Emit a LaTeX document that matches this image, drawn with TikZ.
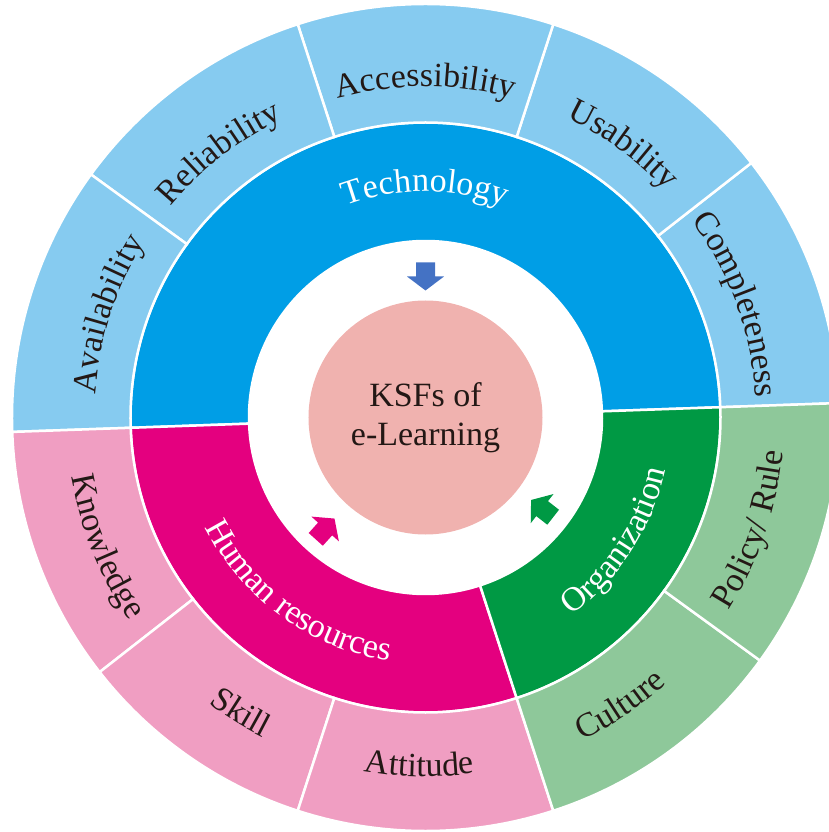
\documentclass[tikz,border=0pt]{standalone}
\usepackage{fontspec}
\setmainfont{Liberation Serif}
\usetikzlibrary{decorations.text}

\definecolor{techdark}{RGB}{0,158,230}
\definecolor{techlight}{RGB}{134,203,240}
\definecolor{hrdark}{RGB}{228,0,127}
\definecolor{hrlight}{RGB}{240,158,194}
\definecolor{orgdark}{RGB}{0,153,68}
\definecolor{orglight}{RGB}{142,200,154}
\definecolor{corefill}{RGB}{240,178,175}
\definecolor{arrowblue}{RGB}{68,114,196}
\definecolor{labeltext}{RGB}{35,24,21}

\newcommand{\lblfont}{\fontsize{34}{39}\selectfont}

% label along an arc, read clockwise (tops outward)
\newcommand{\cwlabel}[4]{%
  \path[decorate, decoration={text along path, text align=center, text color=#3,
        text={|\lblfont|#4}}]
    (#1+40:#2pt) arc[start angle=#1+40, end angle=#1-40, radius=#2pt];}
% label along an arc, read counterclockwise (tops inward)
\newcommand{\ccwlabel}[4]{%
  \path[decorate, decoration={text along path, text align=center, text color=#3,
        text={|\lblfont|#4}}]
    (#1-40:#2pt) arc[start angle=#1-40, end angle=#1+40, radius=#2pt];}
% block arrow pointing to the centre
\newcommand{\inarrow}[3]{%
  \fill[#3, shift={(#1:#2pt)}, rotate=#1+180]
    (-14pt,-9.5pt) -- (0pt,-9.5pt) -- (0pt,-18.5pt) -- (14pt,0pt)
    -- (0pt,18.5pt) -- (0pt,9.5pt) -- (-14pt,9.5pt) -- cycle;}

\begin{document}
\begin{tikzpicture}[
  sector/.style = {draw=white, line width=2.5pt},
  core/.style   = {circle, fill=corefill, minimum size=234pt, inner sep=0pt,
                   align=center, font=\lblfont, text=labeltext},
]
  \useasboundingbox (-425.5pt,-414.5pt) rectangle (403.5pt,417.5pt);

  % inner ring
  \foreach \a/\b/\c in {2/182/techdark, 182/288/hrdark, 288/362/orgdark}
    \path[fill=\c, sector] (\a:176.5pt) arc[start angle=\a, end angle=\b, radius=176.5pt]
      -- (\b:295pt) arc[start angle=\b, end angle=\a, radius=295pt] -- cycle;

  % outer ring
  \foreach \a/\b/\c in {2/38/techlight, 38/72/techlight, 72/108/techlight,
                        108/144/techlight, 144/182/techlight,
                        182/218/hrlight, 218/252/hrlight, 252/288/hrlight,
                        288/324/orglight, 324/362/orglight}
    \path[fill=\c, sector] (\a:295pt) arc[start angle=\a, end angle=\b, radius=295pt]
      -- (\b:413.5pt) arc[start angle=\b, end angle=\a, radius=413.5pt] -- cycle;

  \node[core] (ksf) at (0,0) {KSFs of\\e-Learning};

  \inarrow{90}{141}{arrowblue}
  \inarrow{228}{150}{hrdark}
  \inarrow{322}{148}{orgdark}

  \cwlabel{90}{226}{white}{Technology}
  \ccwlabel{234}{246}{white}{Human resources}
  \ccwlabel{327}{246}{white}{Organization}

  \cwlabel{162}{331}{labeltext}{Availability}
  \cwlabel{128}{331}{labeltext}{Reliability}
  \cwlabel{90}{331}{labeltext}{Accessibility}
  \cwlabel{54}{331}{labeltext}{Usability}
  \cwlabel{20}{331}{labeltext}{Completeness}

  \ccwlabel{202}{359}{labeltext}{Knowledge}
  \ccwlabel{238}{359}{labeltext}{Skill}
  \ccwlabel{269}{359}{labeltext}{Attitude}
  \ccwlabel{304}{359}{labeltext}{Culture}
  \ccwlabel{341}{359}{labeltext}{Policy/ Rule}
\end{tikzpicture}
\end{document}
